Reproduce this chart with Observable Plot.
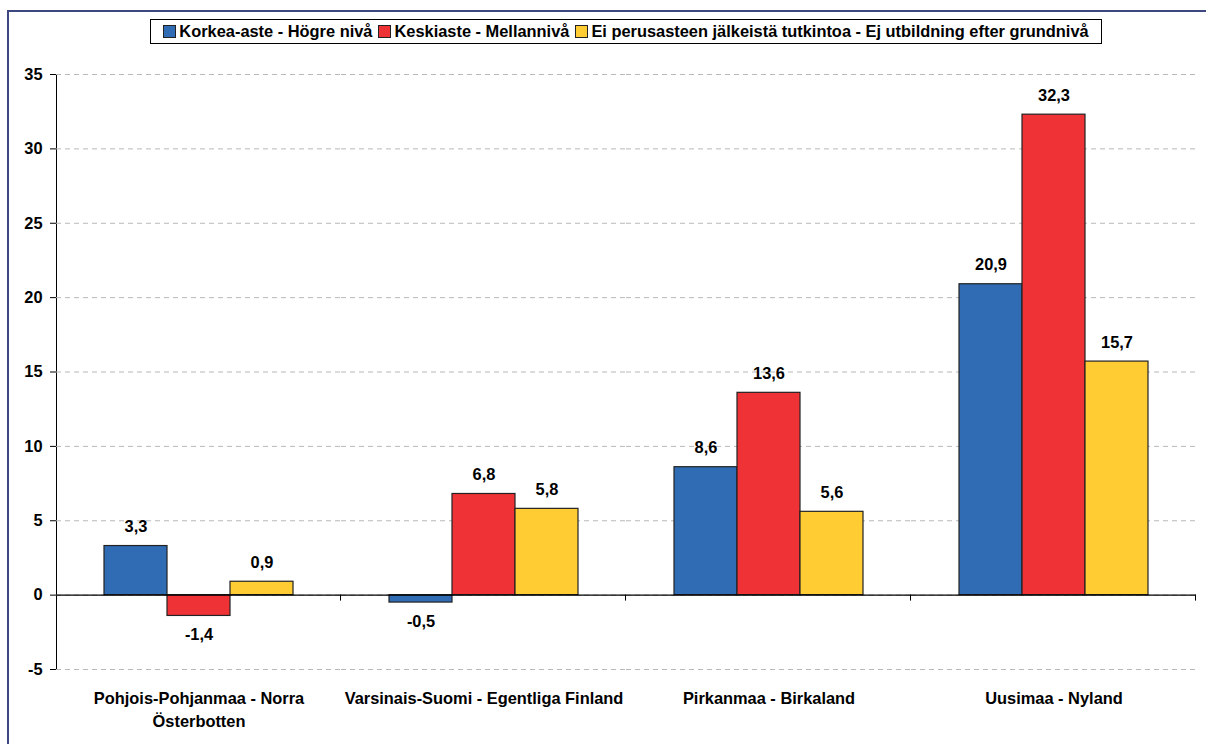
<!DOCTYPE html>
<html>
<head>
<meta charset="utf-8">
<script src="https://cdn.jsdelivr.net/npm/d3@7"></script>
<script src="https://cdn.jsdelivr.net/npm/@observablehq/plot@0.6"></script>
<style>
  html, body { margin: 0; padding: 0; background: #fff; }
  #wrap { position: relative; width: 1206px; height: 744px; overflow: hidden; font-family: "Liberation Sans", Arial, sans-serif; font-weight: bold; }
  #frameline { position: absolute; left: 7px; top: 10px; right: -4px; bottom: -4px; border-top: 2px solid #3d4880; border-left: 2px solid #3d4880; pointer-events: none; }
  #legend { margin: 19px 0 6px 150px; width: 952px; height: 25px; box-sizing: border-box; border: 1px solid #000; display: flex; align-items: center; justify-content: center; font-size: 16.4px; white-space: nowrap; }
  .item { display: inline-flex; align-items: center; margin: 0 3px; }
  .sw { width: 11px; height: 11px; border: 1px solid #222; margin-right: 3px; display: inline-block; }
  svg { display: block; }
</style>
</head>
<body>
<div id="wrap">
  <div id="legend"></div>
  <div id="chart"></div>
  <div id="frameline"></div>
</div>
<script>
const regions = ["Pohjois-Pohjanmaa - Norra Österbotten", "Varsinais-Suomi - Egentliga Finland", "Pirkanmaa - Birkaland", "Uusimaa - Nyland"];
const series = ["Korkea-aste - Högre nivå", "Keskiaste - Mellannivå", "Ei perusasteen jälkeistä tutkintoa - Ej utbildning efter grundnivå"];
const korkea = [3.3, -0.5, 8.6, 20.9];
const keski = [-1.4, 6.8, 13.6, 32.3];
const eiPerus = [0.9, 5.8, 5.6, 15.7];
const colors = ["#306cb4", "#ee3236", "#ffcc33"];
const yTicks = [-5, 0, 5, 10, 15, 20, 25, 30, 35];

const seriesValues = [korkea, keski, eiPerus];
const table = [];
regions.forEach((r, i) => series.forEach((s, j) => table.push({region: r, series: s, value: seriesValues[j][i]})));

// legend
const legend = document.getElementById("legend");
series.forEach((s, j) => {
  const it = document.createElement("span");
  it.className = "item";
  const sw = document.createElement("span");
  sw.className = "sw";
  sw.style.background = colors[j];
  it.appendChild(sw);
  it.appendChild(document.createTextNode(s));
  legend.appendChild(it);
});

const fmt = v => v.toFixed(1).replace(".", ",");
const padOuter = 0.727;
const FONT = '"Liberation Sans", Arial, sans-serif';

const chart = Plot.plot({
  width: 1206,
  height: 694,
  marginTop: 24,
  marginBottom: 75,
  marginLeft: 56,
  marginRight: 10,
  style: {fontFamily: FONT, fontWeight: "bold", fontSize: "16.4px", color: "#000", background: "transparent"},
  fx: {domain: regions, padding: 0, label: null, axis: null},
  x: {domain: series, paddingInner: 0, paddingOuter: padOuter, axis: null},
  y: {domain: [-5, 35], ticks: yTicks, tickSize: 6, tickPadding: 8, line: true, label: null, tickFormat: d => String(d)},
  color: {domain: series, range: colors},
  marks: [
    Plot.gridY(yTicks, {stroke: "#b8b8b8", strokeOpacity: 1, strokeDasharray: "5,4", strokeWidth: 1}),
    Plot.barY(table, {fx: "region", x: "series", y: "value", fill: "series", stroke: "#222", strokeWidth: 1.2}),
    Plot.ruleY([0], {stroke: "#000", strokeWidth: 1.2}),
    Plot.ruleX([series[2]], {x: d => d, y1: 0, y2: 0, insetBottom: -6, dx: 32 + padOuter * 64, stroke: "#000"}),
    Plot.text(table, {fx: "region", x: "series", y: "value", text: d => fmt(d.value), fill: "#000", filter: d => d.value >= 0, dy: -19, fontSize: 16.4}),
    Plot.text(table, {fx: "region", x: "series", y: "value", text: d => fmt(d.value), fill: "#000", filter: d => d.value < 0, dy: 19, fontSize: 16.4}),
    Plot.axisFx({anchor: "bottom", tickSize: 0, tickPadding: 18, label: null, fontSize: 16.4, lineAnchor: "top", lineHeight: 1.4,
      tickFormat: d => d.replace(" Österbotten", "\nÖsterbotten")})
  ]
});
document.getElementById("chart").appendChild(chart);
</script>
</body>
</html>
